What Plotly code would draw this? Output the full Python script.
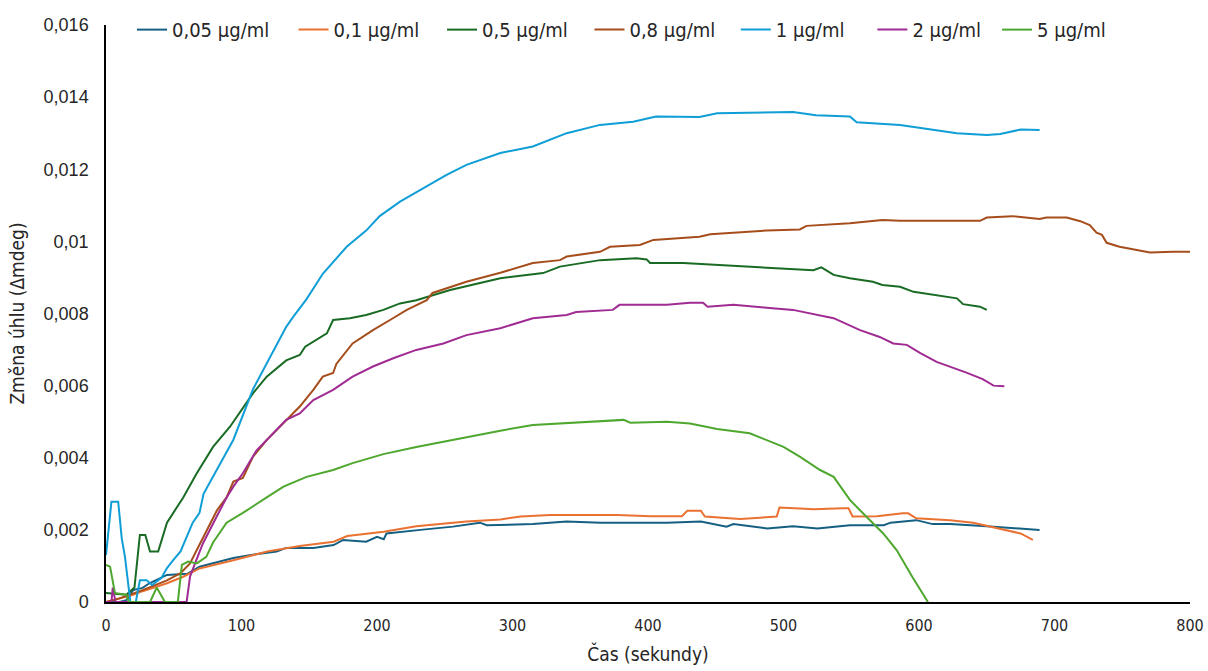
import plotly.graph_objects as go

# Time (s) and angle change (mdeg) for each concentration
t_005 = [0, 10, 15, 20, 27, 32, 45, 60, 69, 84, 94, 106, 126, 133, 153, 168, 175, 192, 200, 205, 207, 232, 256, 276, 281, 315, 340, 365, 414, 439, 458, 463, 475, 488, 507, 525, 549, 574, 579, 598, 610, 623, 650, 670, 689]
v_005 = [0, 0, 0.00005, 0.00033, 0.00039, 0.00052, 0.00075, 0.00078, 0.00098, 0.00112, 0.00122, 0.0013, 0.0014, 0.0015, 0.0015, 0.00158, 0.00172, 0.00167, 0.00181, 0.00174, 0.0019, 0.002, 0.00209, 0.0022, 0.00213, 0.00216, 0.00223, 0.0022, 0.0022, 0.00223, 0.00209, 0.00216, 0.0021, 0.00204, 0.0021, 0.00204, 0.00213, 0.00213, 0.0022, 0.00227, 0.00216, 0.00216, 0.0021, 0.00205, 0.002]

t_01 = [0, 10, 20, 27, 45, 57, 69, 94, 119, 143, 168, 178, 205, 229, 266, 291, 306, 328, 377, 402, 425, 429, 439, 442, 468, 495, 497, 512, 522, 544, 548, 551, 569, 588, 592, 598, 623, 640, 660, 675, 684]
v_01 = [0, 0.0001, 0.0002, 0.0003, 0.00052, 0.0007, 0.00093, 0.00116, 0.0014, 0.00155, 0.00167, 0.00183, 0.00195, 0.0021, 0.00223, 0.00229, 0.00237, 0.00241, 0.00241, 0.00238, 0.00238, 0.00253, 0.00253, 0.00237, 0.0023, 0.00237, 0.00262, 0.00259, 0.00257, 0.0026, 0.0026, 0.00237, 0.00238, 0.00246, 0.00246, 0.00232, 0.00227, 0.0022, 0.00202, 0.0019, 0.00172]

t_05 = [0, 15, 21, 25, 29, 32.5, 38.5, 45, 57, 67, 79, 91.5, 108.7, 118.6, 133, 143, 147, 163, 167.6, 180, 192, 204.7, 217, 229, 254, 291, 322.6, 335, 364.6, 391.6, 399, 401.5, 426, 463, 487.6, 522, 528, 537, 549, 566, 573, 586, 596, 615.5, 628, 632.5, 645, 650]
v_05 = [0.00025, 0.0002, 0.0004, 0.00186, 0.00186, 0.0014, 0.0014, 0.0022, 0.0029, 0.00357, 0.0043, 0.00486, 0.0058, 0.00625, 0.0067, 0.00685, 0.00708, 0.00745, 0.00782, 0.00787, 0.00796, 0.0081, 0.00828, 0.00837, 0.00865, 0.00898, 0.00912, 0.0093, 0.00948, 0.00953, 0.0095, 0.0094, 0.0094, 0.00932, 0.00926, 0.0092, 0.00928, 0.00907, 0.00898, 0.00888, 0.00879, 0.00874, 0.0086, 0.00848, 0.00842, 0.00826, 0.00819, 0.0081]

t_08 = [0, 10, 27, 45, 55, 62, 67, 74, 82, 89, 94, 101, 108.5, 118.6, 131, 143, 153, 160, 167.6, 170, 182, 197, 209.6, 222, 236.7, 241, 266, 291, 315, 335, 340, 364.6, 372, 394, 404, 438, 446, 487.6, 512, 517, 549, 573, 586, 645, 650, 669, 689, 694, 709, 719, 726, 731, 735, 738.5, 748, 760.6, 770.5, 787.5, 800]
v_08 = [0, 0.0001, 0.00033, 0.0006, 0.0008, 0.00107, 0.00144, 0.00195, 0.00255, 0.0029, 0.00334, 0.00344, 0.00403, 0.00449, 0.00496, 0.00542, 0.00588, 0.00625, 0.00635, 0.0066, 0.00717, 0.00754, 0.00782, 0.0081, 0.00837, 0.00857, 0.00888, 0.00913, 0.0094, 0.00948, 0.00958, 0.00971, 0.00985, 0.0099, 0.01004, 0.01013, 0.0102, 0.0103, 0.01033, 0.01043, 0.0105, 0.01059, 0.01057, 0.01057, 0.01066, 0.0107, 0.01062, 0.01066, 0.01066, 0.01056, 0.01045, 0.01024, 0.01018, 0.00996, 0.00985, 0.00976, 0.00969, 0.00971, 0.00971]

t_1 = [0, 4, 9, 11.6, 14, 16, 18, 22, 25, 30, 34, 41, 45, 49.6, 55, 64, 69, 72, 94, 108.5, 118.6, 133, 138, 148, 160, 177.6, 192, 202, 217, 232, 251, 266, 291, 315, 340, 364.6, 389, 406, 438, 451, 488, 507, 524, 549, 554, 586, 628, 650, 660, 675, 689]
v_1 = [0.0013, 0.00278, 0.00278, 0.00177, 0.00125, 0.0007, 0, 0, 0.0006, 0.0006, 0.00047, 0.00067, 0.00094, 0.00116, 0.0014, 0.0022, 0.00247, 0.003, 0.0045, 0.0059, 0.0066, 0.00763, 0.0079, 0.0084, 0.0091, 0.00985, 0.0103, 0.0107, 0.0111, 0.01142, 0.01184, 0.01212, 0.01245, 0.01263, 0.013, 0.01323, 0.01332, 0.01346, 0.01345, 0.01355, 0.01359, 0.01359, 0.0135, 0.01346, 0.0133, 0.01323, 0.013, 0.01295, 0.01298, 0.0131, 0.01309]

t_2 = [0, 4, 5, 7, 59.5, 62, 65.7, 71.6, 81.7, 89, 94, 101, 111, 123, 133, 143, 153, 167.6, 182, 197, 212, 229, 249, 266, 291, 315, 340, 347, 374, 379, 414, 431, 440.6, 444, 463, 487.6, 507, 537, 556.5, 571, 581, 591, 601, 613, 623, 635, 647, 655, 663]
v_2 = [0, 0, 0.0004, 0, 0, 0.0007, 0.00107, 0.00163, 0.00237, 0.0029, 0.0032, 0.00357, 0.0042, 0.00468, 0.00505, 0.00523, 0.0056, 0.00588, 0.00625, 0.00653, 0.00676, 0.00699, 0.00717, 0.0074, 0.00759, 0.00787, 0.00796, 0.00804, 0.0081, 0.00824, 0.00824, 0.0083, 0.0083, 0.00819, 0.00824, 0.00816, 0.0081, 0.00787, 0.00754, 0.00735, 0.00717, 0.00713, 0.0069, 0.00666, 0.00653, 0.00636, 0.00618, 0.006, 0.00598]

t_5 = [0, 3, 6.6, 15, 17, 32.5, 37.4, 43.5, 53, 56, 60.6, 67, 74, 79, 89, 101, 118.6, 131, 148, 167.6, 182, 204.7, 229, 254, 291, 315, 340, 355, 382, 387, 414, 431, 451, 475, 500, 512, 527, 537, 549, 561, 573.6, 583.5, 595, 606.6]
v_5 = [0.00103, 0.00098, 0.00025, 0.0002, 0, 0, 0.0004, 0, 0, 0.00103, 0.00112, 0.00107, 0.00125, 0.00165, 0.0022, 0.00247, 0.0029, 0.0032, 0.00347, 0.00366, 0.00385, 0.0041, 0.0043, 0.00449, 0.00475, 0.00491, 0.00497, 0.005, 0.00505, 0.00497, 0.005, 0.00495, 0.0048, 0.00468, 0.0043, 0.00403, 0.00366, 0.00347, 0.00283, 0.00237, 0.0019, 0.00144, 0.0007, 0]

series = [
    ("0,05 µg/ml", t_005, v_005, "#156082"),
    ("0,1 µg/ml", t_01, v_01, "#E97132"),
    ("0,5 µg/ml", t_05, v_05, "#196B24"),
    ("0,8 µg/ml", t_08, v_08, "#A64D1C"),
    ("1 µg/ml", t_1, v_1, "#0F9ED5"),
    ("2 µg/ml", t_2, v_2, "#A02B93"),
    ("5 µg/ml", t_5, v_5, "#4EA72E"),
]

y_ticks = [0, 0.002, 0.004, 0.006, 0.008, 0.01, 0.012, 0.014, 0.016]
y_labels = ["0", "0,002", "0,004", "0,006", "0,008", "0,01", "0,012", "0,014", "0,016"]
x_ticks = [0, 100, 200, 300, 400, 500, 600, 700, 800]

# legend entry positions along the top edge (paper fraction)
legend_x = [0.024, 0.173, 0.310, 0.446, 0.581, 0.707, 0.822]

NARROW = "DejaVu Sans Condensed, Roboto, sans-serif"
TXT = "#262626"

L, R, T, B = 106, 18, 25, 69

fig = go.Figure()
layout_legends = {}
for i, (name, t, v, color) in enumerate(series):
    key = "legend" if i == 0 else f"legend{i + 1}"
    fig.add_trace(go.Scatter(x=t, y=v, mode="lines", name=name, legend=key,
                             line=dict(color=color, width=2)))
    layout_legends[key] = dict(
        x=legend_x[i], y=0.992, xanchor="left", yanchor="middle",
        orientation="h", bgcolor="rgba(0,0,0,0)",
        font=dict(family=NARROW, size=20, color=TXT), itemwidth=30,
    )

fig.update_layout(
    width=1208, height=671,
    margin=dict(l=L, r=R, t=T, b=B, autoexpand=False),
    paper_bgcolor="white", plot_bgcolor="white",
    showlegend=True,
    xaxis=dict(range=[0, 800], tickvals=x_ticks, showgrid=False, zeroline=False,
               showline=True, linecolor="black", linewidth=1.5, ticks="",
               automargin=False, ticklabelstandoff=8,
               tickfont=dict(family=NARROW, size=16, color=TXT),
               title=dict(text="Čas (sekundy)", font=dict(family=NARROW, size=19, color=TXT),
                          standoff=14)),
    yaxis=dict(range=[0, 0.016], tickvals=y_ticks, ticktext=y_labels, showgrid=False,
               zeroline=False, showline=True, linecolor="black", linewidth=1.5, ticks="",
               automargin=False, ticklabelstandoff=12,
               tickfont=dict(family="Liberation Sans, Arial, sans-serif", size=18, color=TXT),
               title=dict(text="Změna úhlu (Δmdeg)", font=dict(family=NARROW, size=19, color=TXT),
                          standoff=14)),
    **layout_legends,
)

fig.write_html("out.html")
